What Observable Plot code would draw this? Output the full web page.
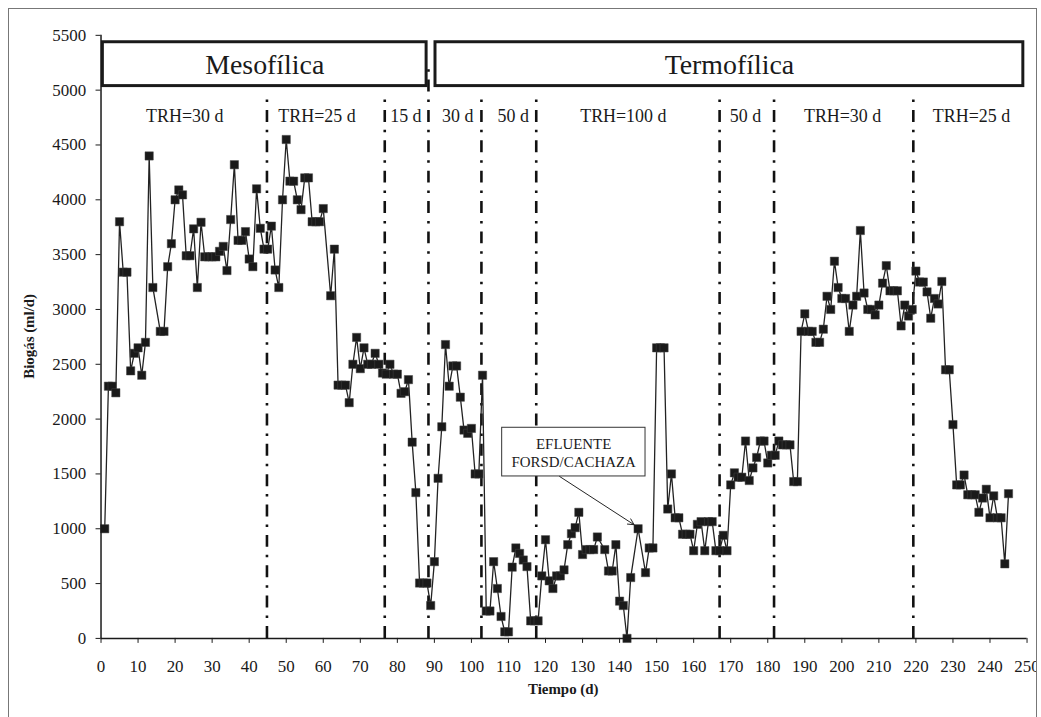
<!DOCTYPE html>
<html>
<head>
<meta charset="utf-8">
<script src="https://cdn.jsdelivr.net/npm/d3@7"></script>
<script src="https://cdn.jsdelivr.net/npm/@observablehq/plot@0.6"></script>
<style>
  html, body { margin: 0; padding: 0; background: white; }
  #frame { position: absolute; left: 8px; top: 8px; width: 1027px; height: 720px; border: 1px solid #777; overflow: hidden; }
  #chart { position: absolute; left: -9px; top: -9px; }
</style>
</head>
<body>
<div id="frame"><div id="chart"></div></div>
<script>
// Days (x) and biogas production (ml/d)
const days = [1,2,3,4,5,6,7,8,9,10,11,12,13,14,16,17,18,19,20,21,22,23,24,25,26,27,28,29,30,31,32,33,34,35,36,37,38,39,40,41,42,43,44,45,46,47,48,49,50,51,52,53,54,55,56,57,58,59,60,62,63,64,65,66,67,68,69,70,71,72,73,74,75,76,77,78,79,80,81,82,83,84,85,86,87,88,89,90,91,92,93,94,95,96,97,98,99,100,101,102,103,104,105,106,107,108,109,110,111,112,113,114,115,116,117,118,119,120,121,122,123,124,125,126,127,128,129,130,131,132,133,134,136,137,138,139,140,141,142,143,145,147,148,149,150,151,152,153,154,155,156,157,158,159,160,161,162,163,164,165,166,167,168,169,170,171,172,173,174,175,176,177,178,179,180,181,182,183,184,185,186,187,188,189,190,191,192,193,194,195,196,197,198,199,200,201,202,203,204,205,206,207,208,209,210,211,212,213,214,215,216,217,218,219,220,221,222,223,224,225,226,227,228,229,230,231,232,233,234,235,236,237,238,239,240,241,242,243,244,245];
const biogas = [1000,2300,2300,2240,3800,3340,3340,2440,2600,2650,2400,2700,4400,3200,2800,2800,3390,3600,4000,4090,4045,3490,3490,3735,3200,3795,3480,3480,3480,3480,3530,3575,3355,3820,4320,3630,3630,3710,3460,3390,4100,3740,3550,3550,3760,3360,3200,4000,4550,4170,4170,4000,3910,4200,4200,3800,3800,3800,3920,3125,3550,2310,2310,2310,2150,2500,2745,2460,2650,2500,2500,2600,2500,2420,2410,2500,2410,2410,2235,2250,2360,1790,1330,505,505,505,300,700,1460,1930,2680,2300,2485,2485,2200,1900,1870,1915,1500,1500,2400,250,250,700,455,200,60,60,650,825,775,715,655,160,160,160,570,900,525,455,570,570,625,855,955,1010,1150,765,810,810,810,925,810,615,615,855,340,300,0,555,1000,600,825,825,2650,2650,2650,1180,1500,1100,1100,950,950,950,800,1040,1065,800,1065,1065,800,800,940,800,1400,1510,1470,1470,1800,1440,1555,1650,1800,1800,1600,1670,1670,1800,1765,1765,1765,1430,1430,2800,2960,2800,2800,2700,2700,2820,3120,3000,3440,3200,3100,3100,2800,3040,3120,3720,3150,3000,3000,2950,3040,3240,3400,3170,3170,3170,2850,3040,2940,3000,3350,3250,3250,3160,2920,3100,3050,3255,2450,2450,1950,1400,1400,1490,1310,1310,1310,1150,1280,1360,1100,1300,1100,1100,680,1320];

// Period boundaries (days) and HRT labels
const boundaries = [44.8, 76.6, 88.4, 102.7, 117.5, 167, 181.7, 219.3];
const periodLabels = ["TRH=30 d","TRH=25 d","15 d","30 d","50 d","TRH=100 d","50 d","TRH=30 d","TRH=25 d"];
const periodCenters = [22.6, 58.3, 82.3, 96.3, 111.3, 141, 174, 200.2, 235];

// Temperature phases
const phaseNames = ["Mesofílica", "Termofílica"];
const phaseStart = [0.5, 90.3];
const phaseEnd = [87.9, 249];

const xTicks = d3.range(0, 251, 10);
const yTicks = d3.range(0, 5501, 500);

const serie = days.map((d, i) => ({day: d, val: biogas[i]}));
const rules = boundaries.map(b => ({x: b, y1: 0, y2: b === 88.4 ? 5200 : 4950}));
const labels = periodLabels.map((t, i) => ({x: periodCenters[i], y: 4760, t}));
const phases = phaseNames.map((n, i) => ({n, x1: phaseStart[i], x2: phaseEnd[i], y1: 5037, y2: 5437}));

const font = "'Liberation Serif', 'Times New Roman', serif";

const plot = Plot.plot({
  width: 1041,
  height: 717,
  marginLeft: 101,
  marginRight: 9.5,
  marginTop: 35,
  marginBottom: 76,
  style: {fontFamily: font, fontSize: "17px", color: "#1a1a1a", background: "white", overflow: "visible"},
  x: {domain: [0, 250], ticks: xTicks, tickSize: 5, tickPadding: 17, tickFormat: d => String(d), label: null},
  y: {domain: [0, 5500], ticks: yTicks, tickSize: 5, tickPadding: 10, tickFormat: d => String(d), label: null},
  marks: [
    Plot.ruleX(rules, {x: "x", y1: "y1", y2: "y2", stroke: "#111", strokeWidth: 2.6, strokeDasharray: "12,8,2.5,8"}),
    Plot.rect(phases, {x1: "x1", x2: "x2", y1: "y1", y2: "y2", fill: "white", stroke: "#1a1a1a", strokeWidth: 3}),
    Plot.text(phases, {x: d => (d.x1 + d.x2) / 2, y: 5230, text: "n", fontSize: 28, fontFamily: font, fill: "#1a1a1a"}),
    Plot.text(labels, {x: "x", y: "y", text: "t", fontSize: 18, fontFamily: font, fill: "#1a1a1a"}),
    Plot.line(serie, {x: "day", y: "val", stroke: "#222", strokeWidth: 1.3}),
    Plot.dot(serie, {x: "day", y: "val", symbol: "square", r: 4.7, fill: "#1a1a1a", stroke: "#444", strokeWidth: 0.5}),
    Plot.rect([{x1: 108.3, x2: 147, y1: 1477, y2: 1921}], {x1: "x1", x2: "x2", y1: "y1", y2: "y2", fill: "white", stroke: "#333", strokeWidth: 1}),
    Plot.text([{x: 127.6, y: 1699, t: "EFLUENTE\nFORSD/CACHAZA"}], {x: "x", y: "y", text: "t", fontSize: 15, fontFamily: font, lineHeight: 1.25, fill: "#1a1a1a"}),
    Plot.arrow([{x1: 123.8, y1: 1477, x2: 143.9, y2: 1037}], {x1: "x1", y1: "y1", x2: "x2", y2: "y2", stroke: "#222", strokeWidth: 1, headLength: 10, headAngle: 55}),
    Plot.ruleX([0], {stroke: "#1a1a1a", strokeWidth: 1.5}),
    Plot.ruleY([0], {stroke: "#1a1a1a", strokeWidth: 1.5})
  ]
});

const svg = d3.select(plot);
svg.append("text")
  .attr("x", 566).attr("y", 697)
  .attr("text-anchor", "middle")
  .attr("font-family", font).attr("font-size", 15).attr("font-weight", "bold").attr("fill", "#1a1a1a")
  .text("Tiempo (d)");
svg.append("text")
  .attr("transform", "translate(34,338) rotate(-90)")
  .attr("text-anchor", "middle")
  .attr("font-family", font).attr("font-size", 15).attr("font-weight", "bold").attr("fill", "#1a1a1a")
  .text("Biogás (ml/d)");

document.getElementById("chart").appendChild(plot);
</script>
</body>
</html>
